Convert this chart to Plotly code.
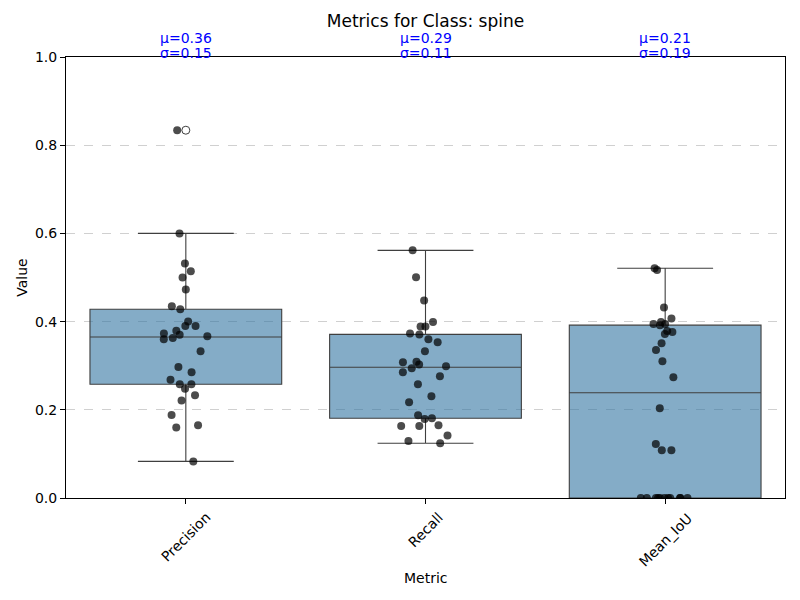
import numpy as np
import plotly.graph_objects as go

metrics = ["Precision", "Recall", "Mean_IoU"]

precision = [0.834, 0.600, 0.532, 0.514, 0.500, 0.473, 0.435, 0.428, 0.400, 0.390,
             0.390, 0.379, 0.370, 0.367, 0.363, 0.373, 0.360, 0.333, 0.297, 0.285,
             0.268, 0.258, 0.258, 0.248, 0.233, 0.221, 0.188, 0.165, 0.160, 0.083]
recall = [0.5616, 0.5004, 0.448, 0.399, 0.389, 0.389, 0.373, 0.371, 0.360, 0.353,
          0.333, 0.309, 0.308, 0.303, 0.299, 0.294, 0.285, 0.276, 0.258, 0.231,
          0.217, 0.1875, 0.181, 0.179, 0.165, 0.163, 0.163, 0.142, 0.129, 0.124]
mean_iou = [0.521, 0.517, 0.432, 0.407, 0.399, 0.3946, 0.3946, 0.392, 0.3787, 0.3764,
            0.372, 0.351, 0.3356, 0.310, 0.2737, 0.2033, 0.1224, 0.108, 0.108,
            0.0, 0.0, 0.0, 0.0, 0.0, 0.0, 0.0, 0.0, 0.0, 0.0, 0.0]

series = [precision, recall, mean_iou]
y_ticks = [0.0, 0.2, 0.4, 0.6, 0.8, 1.0]

FONT = "DejaVu Sans"
fig = go.Figure()

for name, vals in zip(metrics, series):
    fig.add_trace(go.Box(
        x=[name] * len(vals), y=vals, name=name,
        boxpoints="outliers", jitter=0, pointpos=0,
        fillcolor="rgba(50,116,161,0.6)",
        line=dict(color="#3f3f3f", width=1.1),
        marker=dict(symbol="circle-open", color="#3f3f3f", size=8, line=dict(width=1)),
        whiskerwidth=0.5, width=0.8, quartilemethod="inclusive",
        showlegend=False, hoverinfo="skip",
    ))

for name, vals in zip(metrics, series):
    fig.add_trace(go.Box(
        x=[name] * len(vals), y=vals, name=name,
        boxpoints="all", jitter=0.3, pointpos=0,
        fillcolor="rgba(0,0,0,0)",
        line=dict(color="rgba(0,0,0,0)", width=0),
        marker=dict(color="rgba(0,0,0,0.7)", size=8, line=dict(width=0)),
        width=0.8, showlegend=False,
    ))

for name, vals in zip(metrics, series):
    mu = np.mean(vals)
    sd = np.std(vals)
    for txt, shift in ((f"μ={mu:.2f}", 19), (f"σ={sd:.2f}", 4)):
        fig.add_annotation(
            x=name, y=1.0, xref="x", yref="y",
            text=txt, showarrow=False,
            xanchor="center", yanchor="middle", yshift=shift,
            font=dict(family=FONT, size=14, color="blue"),
        )
    fig.add_annotation(
        x=name, y=0.0, xref="x", yref="y",
        text=name, showarrow=False, textangle=-45,
        xanchor="center", yanchor="top", yshift=-9,
        font=dict(family=FONT, size=14, color="black"),
    )

fig.add_annotation(
    x=0.5, y=-(578 - 498) / 441, xref="paper", yref="paper", text="Metric",
    showarrow=False, yanchor="middle",
    font=dict(family=FONT, size=14, color="black"),
)

fig.update_layout(
    width=800, height=600,
    margin=dict(l=66, r=15, t=57, b=102, autoexpand=False),
    paper_bgcolor="white", plot_bgcolor="white",
    boxmode="overlay",
    font=dict(family=FONT, size=14, color="black"),
    title=dict(text="Metrics for Class: spine", x=0.5, xref="paper",
               y=1 - 21 / 600, yref="container", yanchor="middle", xanchor="center",
               font=dict(family=FONT, size=17, color="black")),
    xaxis=dict(
        type="category", categoryorder="array", categoryarray=metrics,
        range=[-0.5, 2.5], showticklabels=False, automargin=False,
        ticks="outside", ticklen=5, tickcolor="black",
        showline=True, linecolor="black", linewidth=1, mirror=True,
        showgrid=False, zeroline=False,
    ),
    yaxis=dict(
        range=[0, 1.0], tickvals=y_ticks, tickformat=".1f", automargin=False,
        ticks="outside", ticklen=5, tickcolor="black",
        showline=True, linecolor="black", linewidth=1, mirror=True,
        showgrid=True, gridcolor="rgba(176,176,176,0.6)", griddash="dash", gridwidth=1,
        zeroline=False,
        title=dict(text="Value", standoff=4, font=dict(family=FONT, size=14)),
        tickfont=dict(family=FONT, size=14),
    ),
)

fig.write_html("out.html", config={"displayModeBar": False},
               post_script="document.body.style.margin='0';document.body.style.overflow='hidden';")
